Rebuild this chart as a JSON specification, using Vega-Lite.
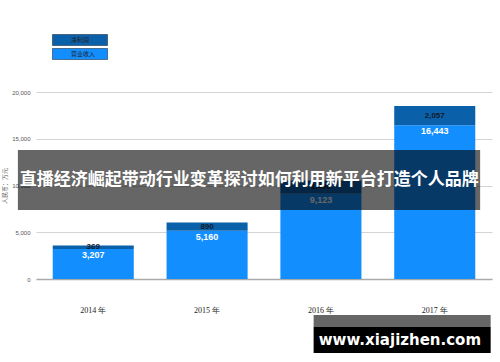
{
  "$schema": "https://vega.github.io/schema/vega-lite/v6.json",
  "width": 456,
  "height": 187,
  "autosize": {"type": "none"},
  "padding": {"left": 36, "top": 92, "right": 8, "bottom": 83},
  "background": "white",
  "config": {"view": {"stroke": null}},
  "datasets": {
    "bars": [
      {"年份": "2014 年", "指标": "营业收入", "值": 3207},
      {"年份": "2014 年", "指标": "净利润", "值": 369},
      {"年份": "2015 年", "指标": "营业收入", "值": 5160},
      {"年份": "2015 年", "指标": "净利润", "值": 890},
      {"年份": "2016 年", "指标": "营业收入", "值": 9123},
      {"年份": "2016 年", "指标": "净利润", "值": 1400},
      {"年份": "2017 年", "指标": "营业收入", "值": 16443},
      {"年份": "2017 年", "指标": "净利润", "值": 2057}
    ]
  },
  "layer": [
    {
      "data": {"name": "bars"},
      "transform": [
        {"stack": "值", "groupby": ["年份"], "sort": [{"field": "指标", "order": "descending"}], "as": ["y0", "y1"]}
      ],
      "layer": [
        {
          "mark": {"type": "bar"},
          "encoding": {
            "x": {
              "field": "年份", "type": "nominal", "sort": null,
              "scale": {"paddingInner": 0.288, "paddingOuter": 0.147},
              "axis": {"title": null, "labelAngle": 0, "labelFont": "Liberation Serif", "labelFontSize": 8, "labelColor": "#222", "labelPadding": 27, "ticks": false, "domainColor": "#aaa", "domainWidth": 1.5, "zindex": 0}
            },
            "y": {
              "field": "y1", "type": "quantitative",
              "scale": {"domain": [0, 20000], "nice": false},
              "axis": {"title": "人民币：万元", "titleFontSize": 6, "titleFont": "Noto Sans CJK SC", "titleFontWeight": "normal", "titleColor": "#555", "titlePadding": 4, "values": [0, 5000, 10000, 15000, 20000], "format": ",d", "labelFontSize": 6, "labelColor": "#555", "labelPadding": 6, "ticks": false, "domain": false, "gridColor": "#d4d4d4", "gridWidth": 1, "zindex": 0}
            },
            "y2": {"field": "y0"},
            "color": {
              "field": "指标", "type": "nominal",
              "scale": {"domain": ["净利润", "营业收入"], "range": ["#0B60AA", "#128EFF"]},
              "legend": {
                "title": null, "orient": "none", "legendX": 16, "legendY": -58, "direction": "vertical",
                "symbolType": "M-1,-1H9V1H-1Z", "symbolSize": 121, "symbolOpacity": 1,
                "symbolStrokeColor": "#223344", "symbolStrokeWidth": 0.6,
                "labelOffset": 7, "labelFontSize": 6, "labelColor": "#222", "labelFont": "Noto Sans CJK SC",
                "rowPadding": 0, "padding": 0
              }
            }
          }
        },
        {
          "transform": [{"filter": "datum['指标'] === '营业收入'"}],
          "mark": {"type": "text", "baseline": "top", "dy": 2, "color": "white", "fontSize": 9, "fontWeight": "bold", "font": "Liberation Sans"},
          "encoding": {
            "x": {"field": "年份", "type": "nominal", "sort": null},
            "y": {"field": "y1", "type": "quantitative"},
            "text": {"field": "值", "type": "quantitative", "format": ",d"}
          }
        },
        {
          "transform": [{"filter": "datum['指标'] === '净利润'"}, {"calculate": "(datum.y0 + datum.y1) / 2", "as": "mid"}],
          "mark": {"type": "text", "baseline": "middle", "color": "#111a2a", "fontSize": 8, "fontWeight": "bold", "font": "Liberation Sans"},
          "encoding": {
            "x": {"field": "年份", "type": "nominal", "sort": null},
            "y": {"field": "mid", "type": "quantitative"},
            "text": {"field": "值", "type": "quantitative", "format": ",d"}
          }
        }
      ]
    },
    {
      "data": {"values": [{}]},
      "mark": {"type": "rect", "color": "black", "opacity": 0.6},
      "encoding": {
        "x": {"datum": "2014 年", "bandPosition": -0.43},
        "x2": {"datum": "2017 年", "bandPosition": 1.06},
        "y": {"datum": 13800},
        "y2": {"datum": 7380}
      }
    },
    {
      "data": {"values": [{}]},
      "mark": {"type": "text", "color": "white", "fontSize": 17, "fontWeight": "bold", "font": "Noto Sans CJK SC", "baseline": "middle", "align": "center"},
      "encoding": {
        "x": {"datum": "2015 年", "bandPosition": 1.02},
        "y": {"datum": 10590},
        "text": {"datum": "直播经济崛起带动行业变革探讨如何利用新平台打造个人品牌"}
      }
    },
    {
      "data": {"values": [{}]},
      "mark": {"type": "rect", "color": "black", "opacity": 0.6},
      "encoding": {
        "x": {"datum": "2016 年", "bandPosition": 0.41},
        "x2": {"datum": "2017 年", "bandPosition": 1.19},
        "y": {"datum": -3850},
        "y2": {"datum": -5130}
      }
    },
    {
      "data": {"values": [{}]},
      "mark": {"type": "rect", "color": "black", "opacity": 1},
      "encoding": {
        "x": {"datum": "2016 年", "bandPosition": 0.41},
        "x2": {"datum": "2017 年", "bandPosition": 1.19},
        "y": {"datum": -5130},
        "y2": {"datum": -7910}
      }
    },
    {
      "data": {"values": [{}]},
      "mark": {"type": "text", "color": "white", "fontSize": 15, "fontWeight": "bold", "font": "DejaVu Sans", "baseline": "middle", "align": "center"},
      "encoding": {
        "x": {"datum": "2017 年", "bandPosition": 0.07},
        "y": {"datum": -6520},
        "text": {"datum": "www.xiajizhen.com"}
      }
    }
  ]
}
